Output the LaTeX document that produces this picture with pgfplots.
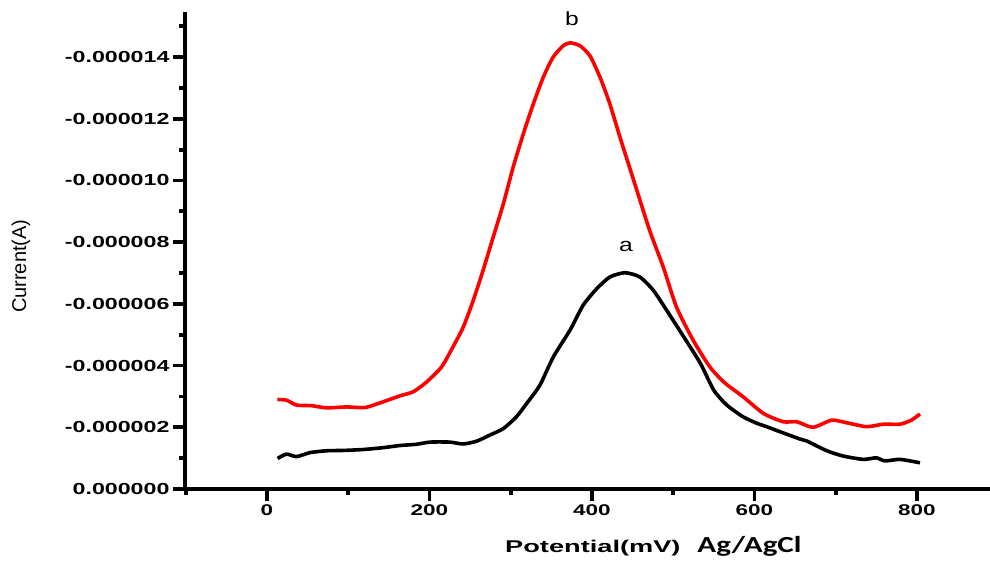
\documentclass[border=0pt]{standalone}
\usepackage{pgfplots}
\pgfplotsset{compat=1.18}
\usepackage{fontspec}
\setmainfont{Liberation Sans}
\newfontfamily\carlito{Carlito}
\newcommand\tl[1]{\scalebox{1.45}[1]{\fontsize{15.5}{16}\selectfont\bfseries #1}}
\newcommand\ytl[1]{\scalebox{1.45}[1]{\fontsize{16}{17}\selectfont\bfseries #1}}
\begin{document}
\begin{tikzpicture}
\useasboundingbox (0,0) rectangle (990pt,565pt);
\begin{axis}[
  at={(185pt,76pt)}, anchor=south west,
  scale only axis, width=805pt, height=477pt,
  xmin=-100.9, xmax=889.9,
  ymin=-15.46, ymax=0,
  y dir=reverse,
  axis x line*=bottom, axis y line*=left,
  axis line style={line width=4.2pt},
  clip=false,
  tick align=outside,
  major tick length=12pt, minor tick length=6pt,
  every tick/.style={black, line width=3.8pt},
  xtick={0,200,400,600,800},
  xticklabels={\tl{0},\tl{200},\tl{400},\tl{600},\tl{800}},
  minor xtick={-100,100,300,500,700},
  ytick={-14,-12,-10,-8,-6,-4,-2,0},
  yticklabels={\ytl{-0.000014},\ytl{-0.000012},\ytl{-0.000010},\ytl{-0.000008},\ytl{-0.000006},\ytl{-0.000004},\ytl{-0.000002},\ytl{0.000000}},
  minor ytick={-15,-13,-11,-9,-7,-5,-3,-1},
  xlabel={\scalebox{1.6}[1]{\fontsize{17}{18}\selectfont\bfseries Potential(mV)}\hspace{17pt}\scalebox{1.35}[1]{\carlito\fontsize{23}{24}\selectfont\bfseries Ag/AgCl}},
  xlabel style={at={(axis description cs:0.3975,-0.134)}, anchor=base west, inner sep=0pt},
  ylabel={\fontsize{20}{21}\selectfont Current(A)},
  ylabel style={at={(axis description cs:-0.2037,0.467)}, anchor=center, inner sep=0pt},
]
\addplot[red, line width=3.6pt, line join=round, smooth, tension=0.4] coordinates {
(12.7,-2.90) (24,-2.88) (36.5,-2.72) (55,-2.70) (73.5,-2.63) (98,-2.66) (120.6,-2.64)
(139,-2.79) (163.7,-3.02) (180,-3.15) (196.5,-3.47) (215,-3.96) (229,-4.61) (241.6,-5.25)
(254,-6.12) (266,-7.09) (278.5,-8.17) (291,-9.25) (303,-10.43) (315.5,-11.51) (327.8,-12.48)
(340,-13.34) (352,-13.99) (364.7,-14.37) (373,-14.46) (385,-14.37) (397.5,-14.04) (410,-13.34)
(422,-12.48) (434.5,-11.40) (452,-9.95) (471,-8.38) (487.8,-7.19) (504,-5.90) (524.6,-4.82)
(545,-3.96) (563,-3.45) (586,-2.99) (611,-2.45) (635.5,-2.18) (652,-2.18) (672,-2.00)
(695,-2.23) (713,-2.15) (738,-2.02) (758.5,-2.10) (779,-2.10) (793,-2.23) (803.7,-2.43)
};
\addplot[black, line width=3.6pt, line join=round, smooth, tension=0.4] coordinates {
(13,-0.99) (24,-1.13) (36.5,-1.05) (53,-1.18) (73.5,-1.24) (94,-1.25) (118.5,-1.28)
(143,-1.34) (163.7,-1.41) (184,-1.45) (200.6,-1.52) (225,-1.52) (241.6,-1.46) (258,-1.55)
(274.5,-1.75) (291,-1.96) (307,-2.34) (319.6,-2.77) (336,-3.37) (352.4,-4.28) (373,-5.15)
(389,-5.95) (405.8,-6.49) (422,-6.87) (440.6,-7.01) (459,-6.87) (475.5,-6.44) (492,-5.79)
(513,-4.93) (533.5,-4.07) (550,-3.20) (566,-2.72) (586,-2.34) (603,-2.13) (615,-2.02)
(631,-1.86) (656,-1.62) (664,-1.56) (689,-1.24) (709,-1.07) (734,-0.96) (750,-1.01)
(760.6,-0.91) (779,-0.96) (803.7,-0.85)
};
\node[font=\fontsize{19}{20}\selectfont] at (axis cs:375.4,-15.23) {\scalebox{1.3}[1]{b}};
\node[font=\fontsize{19}{20}\selectfont] at (axis cs:442,-7.87) {\scalebox{1.3}[1]{a}};
\end{axis}
\end{tikzpicture}
\end{document}
